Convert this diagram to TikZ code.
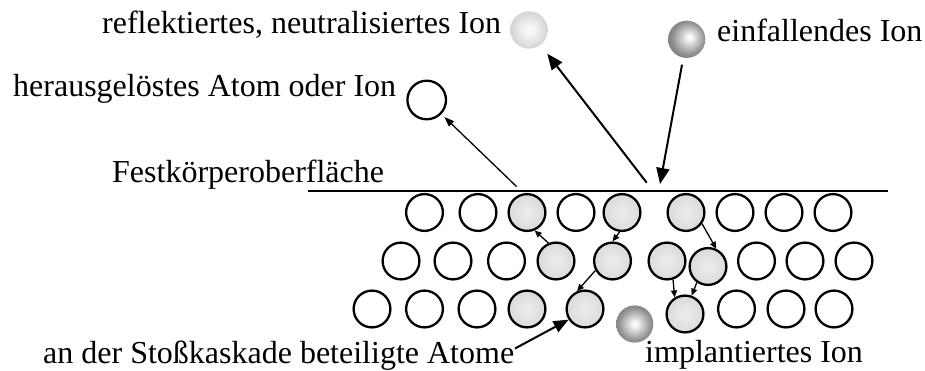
\documentclass[tikz,border=0pt]{standalone}
\usepackage{fontspec}
\setmainfont{Liberation Serif}
\usetikzlibrary{arrows.meta}

% colours of the lattice atoms and the ions
\definecolor{atomin}{gray}{0.93}
\definecolor{atomout}{gray}{0.78}
\definecolor{refin}{gray}{0.97}
\definecolor{refout}{gray}{0.66}
\definecolor{ionmid}{gray}{0.56}
\definecolor{ionout}{gray}{0.28}
\definecolor{ionhi}{gray}{0.95}

\pgfdeclareradialshading{atomfill}{\pgfpoint{0bp}{0bp}}{%
  color(0bp)=(atomin); color(50bp)=(atomout)}
\pgfdeclareradialshading{reflball}{\pgfpoint{0bp}{0bp}}{%
  color(0bp)=(refin); color(5bp)=(refin); color(50bp)=(refout)}
\pgfdeclareradialshading{ionball}{\pgfpoint{0bp}{0bp}}{%
  color(0bp)=(white); color(4bp)=(ionhi); color(22bp)=(ionmid); color(50bp)=(ionout)}
\pgfdeclareradialshading{ionballhi}{\pgfpoint{4bp}{3bp}}{%
  color(0bp)=(white); color(4bp)=(ionhi); color(22bp)=(ionmid); color(50bp)=(ionout)}

\begin{document}
\begin{tikzpicture}[x=1pt,y=-1pt,
  atom/.style={circle,draw=black,line width=2.3pt,fill=white,minimum size=36.8pt,inner sep=0pt},
  hitatom/.style={atom,shade,shading=atomfill},
  reflion/.style={circle,minimum size=37.4pt,inner sep=0pt,shade,shading=reflball},
  ion/.style={circle,minimum size=37.2pt,inner sep=0pt,shade,shading=ionball},
  inion/.style={ion,shading=ionballhi},
  label/.style={anchor=base west,inner sep=0pt,font=\fontsize{32pt}{38pt}\selectfont},
  bigarrow/.style={line width=2pt,-{Triangle[length=16pt,width=13pt]}},
  midarrow/.style={line width=1.3pt,-{Triangle[length=10pt,width=7pt]}},
  smallarrow/.style={line width=1.3pt,-{Triangle[length=7pt,width=6pt]}}]

\useasboundingbox (0,0) rectangle (925,371);

% solid surface
\coordinate (surfL) at (308,190.7);
\coordinate (surfR) at (888,190.7);
\draw[line width=2.2pt] (surfL) -- (surfR);

% first lattice row
\node[atom]    (a11) at (424.5,212.5) {};
\node[atom]    (a12) at (478,212.5) {};
\node[hitatom] (a13) at (527,212.5) {};
\node[atom]    (a14) at (576,212.5) {};
\node[hitatom] (a15) at (622,212.5) {};
\node[hitatom] (a16) at (686,212.5) {};
\node[atom]    (a17) at (735,212.5) {};
\node[atom]    (a18) at (784,212.5) {};
\node[atom]    (a19) at (833,212.5) {};

% second lattice row
\node[atom]    (a21) at (401,261) {};
\node[atom]    (a22) at (453,261) {};
\node[atom]    (a23) at (506.5,261) {};
\node[hitatom] (a24) at (556,261) {};
\node[hitatom] (a25) at (612.5,261) {};
\node[hitatom] (a26) at (667,261) {};
\node[hitatom] (a27) at (708,266.5) {};
\node[atom]    (a28) at (756.5,261) {};
\node[atom]    (a29) at (805,261) {};
\node[atom]    (a2x) at (854,261) {};

% third lattice row
\node[atom]    (a31) at (372,309) {};
\node[atom]    (a32) at (424.5,309) {};
\node[atom]    (a33) at (477,309) {};
\node[hitatom] (a34) at (527,309) {};
\node[hitatom] (a35) at (585,309) {};
\node[hitatom] (a37) at (685,314) {};
\node[atom]    (a38) at (736.5,309) {};
\node[atom]    (a39) at (786,309) {};
\node[atom]    (a3x) at (834,309) {};

% implanted ion
\node[ion] (impl) at (634.7,324) {};

% particles above the surface
\node[atom,minimum size=38.6pt] (emit) at (426.7,100) {};
\node[reflion] (refl) at (529,30) {};
\node[inion] (inc) at (686.7,39.3) {};

% collision cascade
\draw[smallarrow] (a24.113) -- (a13.293);
\draw[smallarrow] (a15.263) -- (a25.90);
\draw[smallarrow] (a25.209) -- (a35.114);
\draw[smallarrow] (a16.325) -- (a27.65);
\draw[smallarrow] (a26.288) -- (a37.122);
\draw[smallarrow] (a27.235) -- (a37.70);

% trajectories at the surface
\coordinate (s1) at (516.7,186.7);
\coordinate (s2) at (646.7,182.7);
\coordinate (s3) at (660,184);
\draw[midarrow,shorten >=4pt] (s1) -- (emit);
\draw[bigarrow,shorten >=11pt] (s2) -- (refl);
\draw[bigarrow,shorten <=7pt] (inc) -- (s3);

% labels
\node[label] (lrefl) at (102,33.3) {reflektiertes, neutralisiertes Ion};
\node[label] (linc) at (717,41.7) {einfallendes Ion};
\node[label] (lemit) at (13,96.7) {herausgelöstes Atom oder Ion};
\node[label] (lsurf) at (112,182.3) {Festkörperoberfläche};
\node[label] (lcasc) at (43,363.5) {an der Stoßkaskade beteiligte Atome};
\node[label] (limpl) at (645,362) {implantiertes Ion};

\coordinate (c1) at (515,348.5);
\draw[line width=2pt,-{Triangle[length=15pt,width=12pt]}] (c1) -- (a35.213);
\end{tikzpicture}
\end{document}
